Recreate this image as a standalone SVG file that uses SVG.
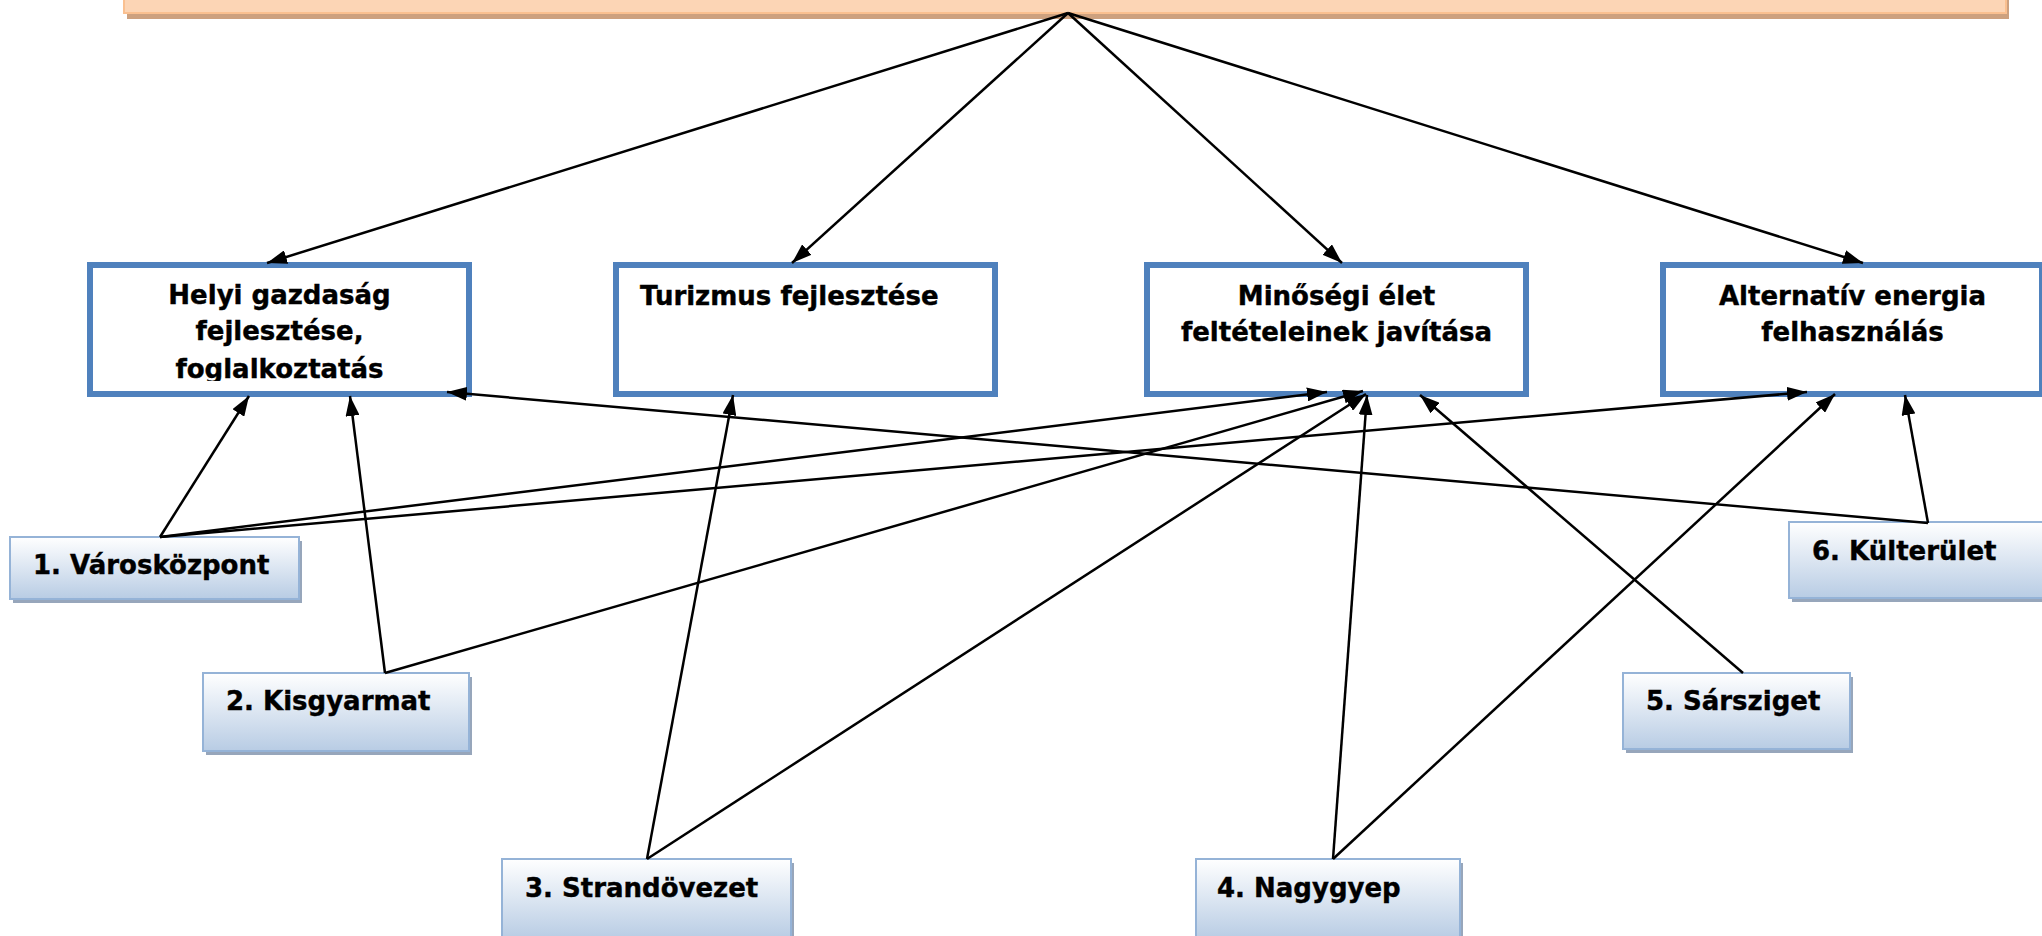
<svg xmlns="http://www.w3.org/2000/svg" width="2042" height="936" viewBox="0 0 2042 936">
<defs>
<style>
.goal{fill:#FFFFFF;stroke:#4F81BD;stroke-width:6}
.gt{font-family:"DejaVu Sans","Liberation Sans",sans-serif;font-weight:bold;font-size:26px;fill:#000;stroke:#000;stroke-width:0.4}
.area{fill:url(#ng);stroke:#95B3D7;stroke-width:2}
.sh{fill:#97A6BB}
.con line{stroke:#000;stroke-width:2.5;fill:none;marker-end:url(#ah)}
</style>
<linearGradient id="ng" x1="0" y1="0" x2="0" y2="1">
<stop offset="0" stop-color="#FFFFFF"/>
<stop offset="1" stop-color="#B8CCE4"/>
</linearGradient>
<marker id="ah" markerUnits="userSpaceOnUse" markerWidth="20" markerHeight="14" refX="20" refY="7" orient="auto">
<path d="M0,0 L20,7 L0,14 z" fill="#000"/>
</marker>
<clipPath id="c1"><rect x="93" y="268" width="373" height="113"/></clipPath>
</defs>

<g id="top">
<rect x="127" y="-15" width="1882" height="34" fill="#CDA17F"/>
<rect x="124" y="-20" width="1882" height="33" fill="#FCD5B5" stroke="#FAC090" stroke-width="2"/>
</g>

<g id="goal1">
<rect class="goal" x="90" y="265" width="379" height="129"/>
<g clip-path="url(#c1)">
<text class="gt" text-anchor="middle" x="279.5" y="304">Helyi gazdaság</text>
<text class="gt" text-anchor="middle" x="279.5" y="340">fejlesztése,</text>
<text class="gt" text-anchor="middle" x="279.5" y="378">foglalkoztatás</text>
</g>
</g>
<g id="goal2">
<rect class="goal" x="616" y="265" width="379" height="129"/>
<text class="gt" x="640" y="305">Turizmus fejlesztése</text>
</g>
<g id="goal3">
<rect class="goal" x="1147" y="265" width="379" height="129"/>
<text class="gt" text-anchor="middle" x="1336.5" y="305">Minőségi élet</text>
<text class="gt" text-anchor="middle" x="1336.5" y="341">feltételeinek javítása</text>
</g>
<g id="goal4">
<rect class="goal" x="1663" y="265" width="379" height="129"/>
<text class="gt" text-anchor="middle" x="1852.5" y="305">Alternatív energia</text>
<text class="gt" text-anchor="middle" x="1852.5" y="341">felhasználás</text>
</g>

<g id="area1">
<rect class="sh" x="13" y="541" width="289" height="62"/>
<rect class="area" x="10" y="537" width="289" height="62"/>
<text class="gt" x="33" y="574">1. Városközpont</text>
</g>
<g id="area2">
<rect class="sh" x="206" y="677" width="266" height="78"/>
<rect class="area" x="203" y="673" width="266" height="78"/>
<text class="gt" x="226" y="710">2. Kisgyarmat</text>
</g>
<g id="area3">
<rect class="sh" x="505" y="863" width="289" height="80"/>
<rect class="area" x="502" y="859" width="289" height="80"/>
<text class="gt" x="525" y="897">3. Strandövezet</text>
</g>
<g id="area4">
<rect class="sh" x="1199" y="863" width="264" height="80"/>
<rect class="area" x="1196" y="859" width="264" height="80"/>
<text class="gt" x="1217" y="897">4. Nagygyep</text>
</g>
<g id="area5">
<rect class="sh" x="1626" y="677" width="227" height="76"/>
<rect class="area" x="1623" y="673" width="227" height="76"/>
<text class="gt" x="1646" y="710">5. Sársziget</text>
</g>
<g id="area6">
<rect class="sh" x="1792" y="526" width="260" height="76"/>
<rect class="area" x="1789" y="522" width="260" height="76"/>
<text class="gt" x="1812" y="560">6. Külterület</text>
</g>

<g id="connectors" class="con">
<line x1="1068" y1="13" x2="267" y2="263"/>
<line x1="1068" y1="13" x2="792" y2="263"/>
<line x1="1068" y1="13" x2="1342" y2="263"/>
<line x1="1068" y1="13" x2="1863" y2="263"/>
<line x1="160" y1="537" x2="249" y2="396"/>
<line x1="160" y1="537" x2="1327" y2="392"/>
<line x1="160" y1="537" x2="1807" y2="392"/>
<line x1="385" y1="673" x2="350" y2="396"/>
<line x1="385" y1="673" x2="1363" y2="391"/>
<line x1="647" y1="859" x2="733" y2="395"/>
<line x1="647" y1="859" x2="1366" y2="394"/>
<line x1="1333" y1="859" x2="1367" y2="395"/>
<line x1="1333" y1="859" x2="1835" y2="394"/>
<line x1="1743" y1="673" x2="1420" y2="395"/>
<line x1="1928" y1="523" x2="447" y2="392"/>
<line x1="1928" y1="523" x2="1905" y2="395"/>
</g>
</svg>
